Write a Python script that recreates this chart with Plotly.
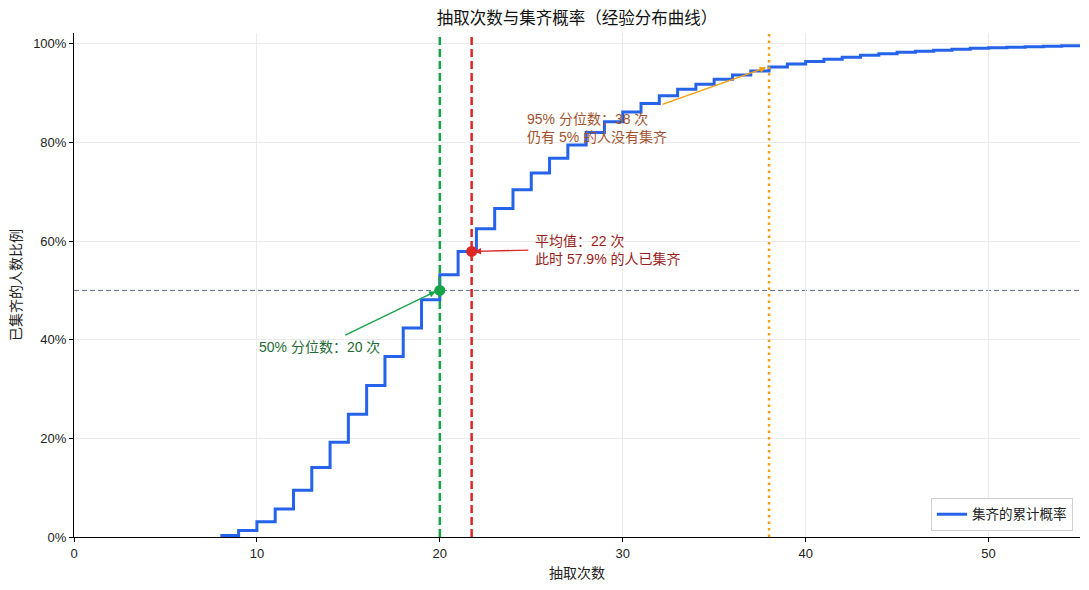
import plotly.graph_objects as go

# ---- data ----
draws = list(range(8, 56))
cdf = [0.003, 0.013, 0.031, 0.057, 0.095, 0.141, 0.192, 0.249, 0.307, 0.366,
       0.424, 0.481, 0.532, 0.579, 0.625, 0.666, 0.704, 0.738, 0.768, 0.795,
       0.820, 0.842, 0.862, 0.879, 0.895, 0.908, 0.918, 0.928, 0.937, 0.945,
       0.953, 0.959, 0.964, 0.969, 0.973, 0.977, 0.980, 0.983, 0.985, 0.987,
       0.989, 0.991, 0.992, 0.993, 0.994, 0.995, 0.996, 0.997]
median_draws = 20
mean_draws = 21.74
mean_cdf = 0.579
q95_draws = 38
half_level = 0.5

x_ticks = [0, 10, 20, 30, 40, 50]
y_ticks = [0, 0.2, 0.4, 0.6, 0.8, 1.0]

BLUE = "#2563eb"
GREEN = "#16a34a"
RED = "#dc2626"
ORANGE = "#f59e0b"
SLATE = "#64748b"
FONT = "Liberation Sans, Noto Sans CJK SC, sans-serif"

fig = go.Figure()
fig.add_trace(go.Scatter(
    x=draws, y=cdf, mode="lines", line=dict(color=BLUE, width=3, shape="hv"),
    name="集齐的累计概率"))
fig.add_trace(go.Scatter(
    x=[median_draws], y=[half_level], mode="markers",
    marker=dict(color=GREEN, size=11), showlegend=False))
fig.add_trace(go.Scatter(
    x=[mean_draws], y=[mean_cdf], mode="markers",
    marker=dict(color=RED, size=11), showlegend=False))

# reference lines
fig.add_shape(type="line", xref="paper", yref="y", x0=0, x1=1,
              y0=half_level, y1=half_level,
              line=dict(color=SLATE, width=1, dash="5px,3px"), layer="below")
fig.add_shape(type="line", xref="x", yref="paper", x0=median_draws, x1=median_draws,
              y0=0, y1=1, line=dict(color=GREEN, width=2.5, dash="8px,4px"))
fig.add_shape(type="line", xref="x", yref="paper", x0=mean_draws, x1=mean_draws,
              y0=0, y1=1, line=dict(color=RED, width=2.5, dash="8px,4px"))
fig.add_shape(type="line", xref="x", yref="paper", x0=q95_draws, x1=q95_draws,
              y0=0, y1=1, line=dict(color=ORANGE, width=2.5, dash="2.5px,4px"))

# arrows
def arrow(x, y, ax, ay, color):
    fig.add_annotation(x=x, y=y, ax=ax, ay=ay, xref="x", yref="y",
                       axref="x", ayref="y", text="", showarrow=True,
                       arrowhead=2, arrowsize=1, arrowwidth=1.3,
                       arrowcolor=color, standoff=0, startstandoff=0)

arrow(19.77, 0.498, 14.75, 0.408, GREEN)
arrow(21.9, 0.579, 24.92, 0.582, RED)
arrow(37.84, 0.952, 32.09, 0.876, ORANGE)

# texts
fig.add_annotation(x=10, y=0.385, xref="x", yref="y", xanchor="left",
                   yanchor="middle", showarrow=False,
                   text="50% 分位数：20 次",
                   font=dict(family=FONT, size=14, color="#1f6b37"))
fig.add_annotation(x=25.1, y=0.582, xref="x", yref="y", xanchor="left",
                   yanchor="middle", showarrow=False, align="left",
                   text="平均值：22 次<br>此时 57.9% 的人已集齐",
                   font=dict(family=FONT, size=14, color="#9b1c1c"))
fig.add_annotation(x=24.65, y=0.829, xref="x", yref="y", xanchor="left",
                   yanchor="middle", showarrow=False, align="left",
                   text="95% 分位数：38 次<br>仍有 5% 的人没有集齐",
                   font=dict(family=FONT, size=14, color="#a0522d"))

fig.update_layout(
    width=1089, height=590,
    margin=dict(l=74, r=9, t=33, b=53),
    paper_bgcolor="white", plot_bgcolor="white",
    font=dict(family=FONT, size=13, color="#222222"),
    title=dict(text="抽取次数与集齐概率（经验分布曲线）", x=0.5, xref="paper",
               xanchor="center", y=1 - 18 / 590, yref="container",
               yanchor="middle", font=dict(family=FONT, size=16.5, color="#111111")),
    legend=dict(x=0.993, y=0.012, xanchor="right", yanchor="bottom",
                bgcolor="white", bordercolor="#d0d0d0", borderwidth=1,
                font=dict(family=FONT, size=13.5, color="#222222")),
    showlegend=True,
)
fig.update_xaxes(range=[0, 55], tickvals=x_ticks, showgrid=True,
                 gridcolor="#ebebeb", gridwidth=1, showline=True,
                 linecolor="black", linewidth=1, ticks="outside", ticklen=4,
                 tickcolor="black", zeroline=False,
                 title=dict(text="抽取次数", standoff=8,
                            font=dict(family=FONT, size=14)),
                 tickfont=dict(family=FONT, size=13))
fig.update_yaxes(range=[0, 1.022], tickvals=y_ticks, tickformat=".0%",
                 showgrid=True, gridcolor="#ebebeb", gridwidth=1,
                 showline=True, linecolor="black", linewidth=1,
                 ticks="outside", ticklen=4, tickcolor="black", zeroline=False,
                 title=dict(text="已集齐的人数比例", standoff=8,
                            font=dict(family=FONT, size=14)),
                 tickfont=dict(family=FONT, size=13))

fig.write_html("out.html")
